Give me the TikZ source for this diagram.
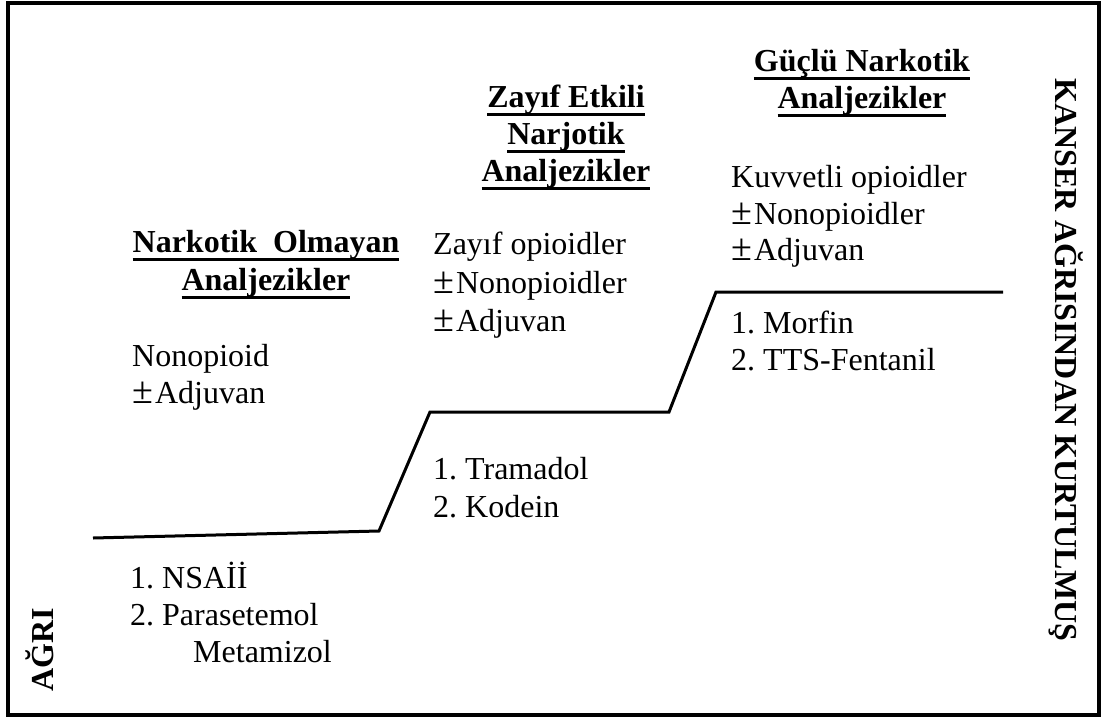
\documentclass[tikz,border=0pt]{standalone}
\usepackage{fontspec}
\setmainfont{Liberation Serif}
\frenchspacing
\newsavebox\ulsave
\newcommand\ulh[1]{\sbox\ulsave{#1}\rlap{\rule[-9pt]{\wd\ulsave}{3pt}}\usebox\ulsave}
\newcommand\pmk{{\fontsize{38}{38}\selectfont ±}\kern2pt}
\begin{document}
\begin{tikzpicture}[x=1pt,y=-1pt,
  txt/.style={inner sep=0pt, anchor=base west, font=\fontsize{32}{37}\selectfont},
  hd/.style={inner sep=0pt, anchor=base, font=\fontsize{32}{37}\selectfont\bfseries},
  stair/.style={line width=3pt, line join=miter},
  frame/.style={line width=4pt}]
\useasboundingbox (0,0) rectangle (1101,718);
\draw[frame] (8,3) rectangle (1099,715);
% stair line
\coordinate (s0) at (93,538);
\coordinate (s1) at (379,531);
\coordinate (s2) at (430,412);
\coordinate (s3) at (669,412);
\coordinate (s4) at (716,292);
\coordinate (s5) at (1003,292);
\draw[stair] (s0) -- (s1) -- (s2) -- (s3) -- (s4) -- (s5);
% headings
\node[hd] (h1a) at (266,252) {\ulh{Narkotik\ \ Olmayan}};
\node[hd] (h1b) at (266,290) {\ulh{Analjezikler}};
\node[hd] (h2a) at (566,107) {\ulh{Zayıf Etkili}};
\node[hd] (h2b) at (566,144) {\ulh{Narjotik}};
\node[hd] (h2c) at (566,181) {\ulh{Analjezikler}};
\node[hd] (h3a) at (862,71) {\ulh{Güçlü Narkotik}};
\node[hd] (h3b) at (862,108) {\ulh{Analjezikler}};
% step 1
\node[txt] (n1) at (132,366) {Nonopioid};
\node[txt] (n2) at (132,403) {\pmk Adjuvan};
\node[txt] (d1) at (130,588) {1. NSAİİ};
\node[txt] (d2) at (130,625) {2. Parasetemol};
\node[txt] (d3) at (193,662) {Metamizol};
% step 2
\node[txt] (z1) at (433,254) {Zayıf opioidler};
\node[txt] (z2) at (433,293) {\pmk Nonopioidler};
\node[txt] (z3) at (433,331) {\pmk Adjuvan};
\node[txt] (t1) at (433,479) {1. Tramadol};
\node[txt] (t2) at (433,517) {2. Kodein};
% step 3
\node[txt] (k1) at (731,187) {Kuvvetli opioidler};
\node[txt] (k2) at (731,224) {\pmk Nonopioidler};
\node[txt] (k3) at (731,260) {\pmk Adjuvan};
\node[txt] (m1) at (731,333) {1. Morfin};
\node[txt] (m2) at (731,370) {2. TTS-Fentanil};
% side labels
\node[hd, rotate=90] (agri) at (53,650) {AĞRI};
\node[hd, rotate=-90] (kanser) at (1055,360) {KANSER AĞRISINDAN KURTULMUŞ};
\end{tikzpicture}
\end{document}
